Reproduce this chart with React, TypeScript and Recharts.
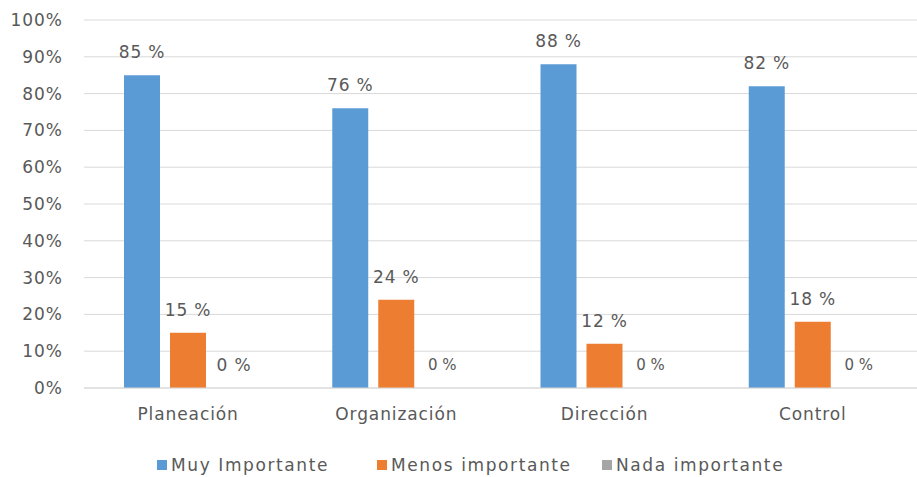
import React from "react";
import { BarChart, Bar, XAxis, YAxis, CartesianGrid, LabelList } from "recharts";

const categories = ["Planeación", "Organización", "Dirección", "Control"];
const muyImportante = [85, 76, 88, 82];
const menosImportante = [15, 24, 12, 18];
const nadaImportante = [0, 0, 0, 0];
const yTicks = [0, 10, 20, 30, 40, 50, 60, 70, 80, 90, 100];

const seriesNames = ["Muy Importante", "Menos importante", "Nada importante"];
const colors = ["#5B9BD5", "#ED7D31", "#A5A5A5"];

const data = categories.map((c, i) => ({
  name: c,
  muy: muyImportante[i],
  menos: menosImportante[i],
  nada: nadaImportante[i],
}));

const FONT = "'DejaVu Sans', sans-serif";
const TEXT = "#595959";
const BAR_GAP = 10;

const makeLabel = (small: (i: number) => boolean) => (props: any) => {
  const { x, y, width, height, value, index } = props;
  const isSmall = small(index);
  const top = Math.min(Number(y), Number(y) + Number(height || 0));
  return (
    <text
      x={Number(x) + Number(width) / 2}
      y={top - 23}
      textAnchor="middle"
      dominantBaseline="central"
      fill={TEXT}
      fontFamily={FONT}
      fontSize={isSmall ? 15 : 17}
      letterSpacing={isSmall ? 0 : 0.8}
    >
      {`${value} %`}
    </text>
  );
};

// Label for the third (zero-valued) series, placed in the slot next to the orange bar,
// at the baseline derived from the orange bar's geometry.
const nadaLabel = (props: any) => {
  const { x, y, width, height, index } = props;
  const v = nadaImportante[index];
  const isSmall = index > 0;
  const base = Math.max(Number(y), Number(y) + Number(height || 0));
  const cx = Number(x) + Number(width) + BAR_GAP + Number(width) / 2;
  return (
    <text
      x={cx}
      y={base - 23}
      textAnchor="middle"
      dominantBaseline="central"
      fill={TEXT}
      fontFamily={FONT}
      fontSize={isSmall ? 15 : 17}
      letterSpacing={isSmall ? 0 : 0.8}
    >
      {`${v} %`}
    </text>
  );
};

const LegendContent = () => (
  <div
    style={{
      position: "absolute",
      left: 0,
      top: 452,
      width: 917,
      height: 25,
      fontFamily: FONT,
      fontSize: 17,
      color: TEXT,
    }}
  >
    {seriesNames.map((n, i) => (
      <div
        key={n}
        style={{
          position: "absolute",
          left: [157, 377, 602][i],
          top: 3,
          display: "flex",
          alignItems: "center",
          whiteSpace: "nowrap",
          letterSpacing: 1.6,
        }}
      >
        <span
          style={{
            display: "inline-block",
            width: 10,
            height: 10,
            background: colors[i],
            marginRight: 4,
          }}
        />
        {n}
      </div>
    ))}
  </div>
);

export default function App() {
  return (
    <div style={{ position: "absolute", left: 0, top: 0, width: 917, height: 477, background: "#fff" }}>
      <BarChart
        width={917}
        height={477}
        data={data}
        margin={{ top: 20, right: 0, bottom: 59, left: 0 }}
        barSize={36}
        barGap={BAR_GAP}
      >
        <CartesianGrid vertical={false} stroke="#d9d9d9" />
        <YAxis
          width={84}
          domain={[0, 100]}
          ticks={yTicks}
          axisLine={false}
          tickLine={false}
          tickSize={0}
          tickMargin={21}
          tickFormatter={(v: number) => `${v}%`}
          tick={{ fill: TEXT, fontFamily: FONT, fontSize: 17, letterSpacing: 1 }}
          interval={0}
        />
        <XAxis
          dataKey="name"
          height={30}
          axisLine={{ stroke: "#d9d9d9" }}
          tickLine={false}
          tickSize={0}
          tickMargin={20}
          tick={{ fill: TEXT, fontFamily: FONT, fontSize: 17, letterSpacing: 0.9 }}
        />
        <Bar dataKey="muy" fill={colors[0]} isAnimationActive={false}>
          <LabelList dataKey="muy" content={makeLabel(() => false)} />
        </Bar>
        <Bar dataKey="menos" fill={colors[1]} isAnimationActive={false}>
          <LabelList dataKey="menos" content={makeLabel(() => false)} />
          <LabelList dataKey="nada" content={nadaLabel} />
        </Bar>
        <Bar dataKey="nada" fill={colors[2]} isAnimationActive={false} />
      </BarChart>
      <LegendContent />
    </div>
  );
}
